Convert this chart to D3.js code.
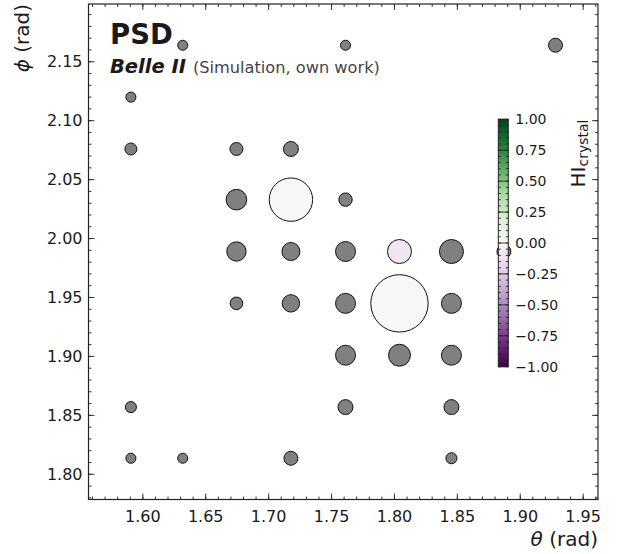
<!DOCTYPE html>
<html><head><meta charset="utf-8">
<script src="https://cdn.jsdelivr.net/npm/d3@7"></script>
<style>body{margin:0;background:#fff}svg{display:block}text{font-family:"DejaVu Sans",sans-serif;fill:#1a1a1a}</style>
</head><body><svg id="c" width="620" height="554"></svg>
<script>
// crystal centres (rad)
const theta = [1.6317,1.7611,1.928, 1.5905, 1.5905,1.6744,1.7177, 1.6744,1.7177,1.7611,
  1.6744,1.7177,1.7611,1.804,1.8453,1.887, 1.6744,1.7177,1.7611,1.804,1.8453,
  1.7611,1.804,1.8453, 1.5905,1.7611,1.8453, 1.5905,1.6317,1.7177,1.8453];
const phi = [2.164,2.164,2.164, 2.120, 2.076,2.076,2.076, 2.033,2.033,2.033,
  1.989,1.989,1.989,1.989,1.989,1.989, 1.945,1.945,1.945,1.945,1.945,
  1.901,1.901,1.901, 1.857,1.857,1.857, 1.8136,1.8136,1.8136,1.8136];
// deposited energy (arb. units) -> marker area
const energy = [28,28,54, 28, 40,47,62, 118,523,50,
  104,90,111,160,160,54, 44,84,111,915,111,
  111,134,111, 34,62,62, 28,28,54,34];
// hadron intensity per crystal (null = not available, drawn grey)
const hi = [null,null,null, null, null,null,null, null,0.0,null,
  null,null,null,-0.1,null,null, null,null,null,0.0,null,
  null,null,null, null,null,null, null,null,null,null];
const xTicks = [1.60,1.65,1.70,1.75,1.80,1.85,1.90,1.95];
const yTicks = [1.80,1.85,1.90,1.95,2.00,2.05,2.10,2.15];
const cbTicks = [-1,-0.75,-0.5,-0.25,0,0.25,0.5,0.75,1];

const svg = d3.select("#c");
const L=88.5,R=598,T=4,B=499.5;
const x = d3.scaleLinear().domain([1.5568,1.9618]).range([L,R]);
const y = d3.scaleLinear().domain([1.7786,2.199]).range([B,T]);
const rs = d3.scaleSqrt().domain([0,1000]).range([0,30]);
const prgn = d3.scaleLinear().domain(d3.range(11).map(i=>-1+i*0.2)).range(d3.schemePRGn[11]).interpolate(d3.interpolateRgb);
const col = v => v==null ? "#808080" : prgn(v);

const fmt = d3.format(".2f");
const minus = s => s.replace("-","\u2212");

// minor ticks
const xMinor = d3.range(1.56,1.962,0.01);
const yMinor = d3.range(1.78,2.2,0.01);
const g = svg.append("g");
const tk = (x1,y1,x2,y2)=>g.append("line").attr("x1",x1).attr("y1",y1).attr("x2",x2).attr("y2",y2).attr("stroke","#222").attr("stroke-width",0.9);
xMinor.forEach(v=>{const px=x(v); if(px>L&&px<R){tk(px,B,px,B-3);tk(px,T,px,T+3);}});
yMinor.forEach(v=>{const py=y(v); if(py>T&&py<B){tk(L,py,L+3,py);tk(R,py,R-3,py);}});
xTicks.forEach(v=>{const px=x(v); tk(px,B,px,B-6);tk(px,T,px,T+6);
  g.append("text").attr("x",px).attr("y",B+22).attr("text-anchor","middle").attr("font-size",16).text(fmt(v));});
yTicks.forEach(v=>{const py=y(v); tk(L,py,L+6,py);tk(R,py,R-6,py);
  g.append("text").attr("x",L-6).attr("y",py).attr("dy","0.35em").attr("text-anchor","end").attr("font-size",16).text(fmt(v));});

// points
const pts = theta.map((t,i)=>({t,p:phi[i],e:energy[i],h:hi[i]}));
svg.append("g").selectAll("circle").data(pts).join("circle")
  .attr("cx",d=>x(d.t)).attr("cy",d=>y(d.p)).attr("r",d=>rs(d.e))
  .attr("fill",d=>col(d.h)).attr("stroke","#111").attr("stroke-width",1);

// frame
svg.append("rect").attr("x",L).attr("y",T).attr("width",R-L).attr("height",B-T)
  .attr("fill","none").attr("stroke","#222").attr("stroke-width",1.2);

// labels
svg.append("text").attr("x",R).attr("y",546).attr("text-anchor","end").attr("font-size",20)
  .html('<tspan font-style="italic">θ</tspan> (rad)');
svg.append("text").attr("transform","translate(29,4) rotate(-90)").attr("text-anchor","end").attr("font-size",20)
  .html('<tspan font-style="italic">ϕ</tspan> (rad)');

svg.append("text").attr("x",110).attr("y",44).attr("font-size",27.5).attr("font-weight","bold").text("PSD");
const t2 = svg.append("text").attr("x",110).attr("y",73);
t2.append("tspan").attr("font-size",19.5).attr("font-weight","bold").attr("font-style","italic").text("Belle II");
t2.append("tspan").attr("font-size",16.2).attr("dx",7).style("fill","#444").text("(Simulation, own work)");

// colorbar
const cy = d3.scaleLinear().domain([-1,1]).range([366.7,119.3]);
const cbx=498.3, cbw=10;
const grad = svg.append("defs").append("linearGradient").attr("id","gr").attr("x1",0).attr("y1",1).attr("x2",0).attr("y2",0);
d3.range(0,1.0001,0.05).forEach(t=>grad.append("stop").attr("offset",t).attr("stop-color",prgn(-1+2*t)));
const cb = svg.append("g");
cb.append("rect").attr("x",cbx).attr("y",cy(1)).attr("width",cbw).attr("height",cy(-1)-cy(1)).attr("fill","url(#gr)");
const ctk=(x1,y1,x2,y2)=>cb.append("line").attr("x1",x1).attr("y1",y1).attr("x2",x2).attr("y2",y2).attr("stroke","#222").attr("stroke-width",0.9);
d3.range(-1,1.0001,0.05).forEach(v=>{const py=cy(v); ctk(cbx+cbw,py,cbx+cbw-2.5,py); ctk(cbx,py,cbx+2.5,py);});
cbTicks.forEach(v=>{const py=cy(v); ctk(cbx+cbw,py,cbx+cbw-5,py); ctk(cbx,py,cbx+5,py);
  cb.append("text").attr("x",cbx+cbw+7).attr("y",py).attr("dy","0.35em").attr("font-size",14).text(minus(fmt(v)));});
cb.append("rect").attr("x",cbx).attr("y",cy(1)).attr("width",cbw).attr("height",cy(-1)-cy(1)).attr("fill","none").attr("stroke","#222").attr("stroke-width",1);
svg.append("text").attr("transform","translate(585,119.5) rotate(-90)").attr("text-anchor","end").attr("font-size",20)
  .html('HI<tspan font-size="14" dy="3">crystal</tspan>');
</script></body></html>
